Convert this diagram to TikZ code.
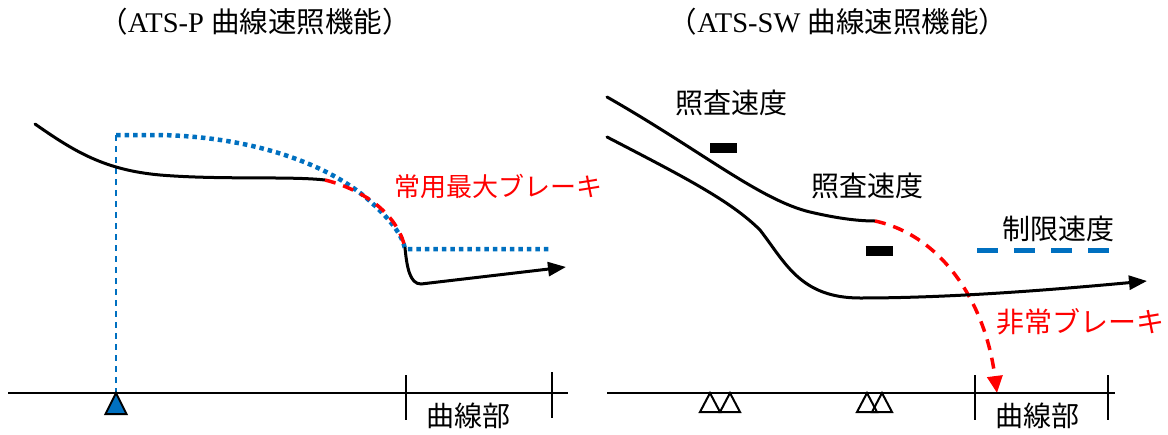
\documentclass[tikz,border=0pt]{standalone}
\usepackage{fontspec}
\setmainfont{Liberation Serif}
\newfontfamily\jp{Noto Sans CJK JP}
\usetikzlibrary{arrows.meta}
\definecolor{msblue}{RGB}{0,112,192}
\definecolor{msred}{RGB}{255,0,0}
\begin{document}
\begin{tikzpicture}[x=1pt,y=-1pt,
  curve/.style={line width=3pt, line cap=round},
  redbrake/.style={msred, line width=3.5pt, dash pattern=on 11pt off 8pt},
  limit/.style={msblue, line width=4.5pt, dash pattern=on 4.5pt off 4pt},
  limitdash/.style={msblue, line width=5pt, dash pattern=on 21pt off 16pt},
  guide/.style={msblue, line width=1.5pt, dash pattern=on 6pt off 5pt},
  track/.style={line width=2pt, line join=miter},
  bar/.style={fill=black, minimum width=27pt, minimum height=10pt, inner sep=0pt},
  lbl/.style={font=\jp\fontsize{28}{28}\selectfont, inner sep=0pt},
  slbl/.style={font=\jp\fontsize{26}{26}\selectfont, inner sep=0pt},
  ttl/.style={font=\fontsize{28.5}{28.5}\selectfont, inner sep=0pt},
  blk/.style={-{Triangle[length=18pt,width=14pt]}},
  rtip/.style={-{Triangle[length=17pt,width=15pt]}}
]
\useasboundingbox (0,0) rectangle (1168,434);
% titles
\node[ttl] (t1) at (255,22) {{\jp （}ATS-P {\jp 曲線速照機能）}};
\node[ttl] (t2) at (838,22) {{\jp （}ATS-SW {\jp 曲線速照機能）}};

% ---------- left panel ----------
\coordinate (q0) at (116,135);
\coordinate (q1) at (405,249);
\coordinate (q2) at (552,249);
\coordinate (apex) at (116,393);
\draw[guide] (q0) -- (apex);
\draw[limit] (q0) -- (160,135) .. controls (260,137) and (335,168) .. (372,203)
  .. controls (395,224) and (403,238) .. (q1) -- (q2);

\coordinate (p0) at (35,124);
\coordinate (p1) at (325,180);
\coordinate (p2) at (405,248);
\coordinate (p3) at (421,284);
\coordinate (p4) at (566,267);
\draw[curve] (p0) .. controls (75,152) and (105,170) .. (160,175)
  .. controls (220,180) and (290,176) .. (p1);
\draw[redbrake] (p1) .. controls (365,190) and (398,215) .. (p2);
\draw[curve,blk] (p2) .. controls (407,268) and (410,284) .. (p3) -- (p4);

\node[slbl, msred, anchor=west] (jb) at (394,186) {常用最大ブレーキ};

% left track
\coordinate (la) at (8,393);
\coordinate (lb) at (568,393);
\draw[track] (la) -- (lb);
\coordinate (lt1a) at (406,375); \coordinate (lt1b) at (406,420);
\coordinate (lt2a) at (552,372); \coordinate (lt2b) at (552,418);
\draw[track] (lt1a) -- (lt1b);
\draw[track] (lt2a) -- (lt2b);
\draw[track, fill=msblue] (apex) -- (105.5,414) -- (126.5,414) -- cycle;
\node[lbl] (c1) at (468,416) {曲線部};

% ---------- right panel ----------
\coordinate (r0) at (607,97);
\coordinate (r1) at (875,221);
\coordinate (r2) at (997,393);
\draw[curve] (r0) .. controls (700,150) and (760,200) .. (810,212)
  .. controls (840,219) and (860,221) .. (r1);
\draw[redbrake, rtip] (r1) .. controls (940,235) and (985,300) .. (r2);

\coordinate (s0) at (607,137);
\coordinate (s1) at (1147,281);
\draw[curve,blk] (s0) .. controls (680,175) and (730,200) .. (760,230)
  .. controls (785,262) and (800,298) .. (860,298)
  .. controls (950,298) and (1050,290) .. (s1);

\node[bar] (b1) at (723,148) {};
\node[bar] (b2) at (879,251) {};

\coordinate (u0) at (977,250);
\coordinate (u1) at (1109,250);
\draw[limitdash] (u0) -- (u1);

\node[lbl] (a1) at (731,103) {照査速度};
\node[lbl] (a2) at (867,186) {照査速度};
\node[lbl] (a3) at (1058,229) {制限速度};
\node[lbl, msred, anchor=west] (eb) at (996,322) {非常ブレーキ};

% right track
\coordinate (ra) at (607,393);
\coordinate (rb) at (1115,393);
\draw[track] (ra) -- (rb);
\coordinate (rt1a) at (975,375); \coordinate (rt1b) at (975,420);
\coordinate (rt2a) at (1108,375); \coordinate (rt2b) at (1108,420);
\draw[track] (rt1a) -- (rt1b);
\draw[track] (rt2a) -- (rt2b);
\draw[track] (700,412) -- (710,393) -- (720,412) -- cycle;
\draw[track] (720,412) -- (730,393) -- (740,412) -- cycle;
\draw[track] (857,412) -- (867,393) -- (877,412) -- cycle;
\draw[track] (872,412) -- (882,393) -- (892,412) -- cycle;
\node[lbl] (c2) at (1037,416) {曲線部};
\end{tikzpicture}
\end{document}
